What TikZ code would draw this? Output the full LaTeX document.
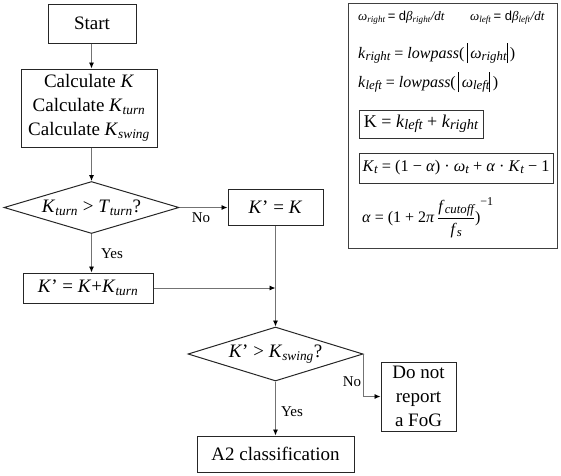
\documentclass[tikz,border=0pt]{standalone}
\usepackage{fontspec}
\usepackage{graphicx}
\setmainfont{Liberation Serif}
\newfontfamily\sansf{Liberation Sans}
\usetikzlibrary{shapes.geometric,arrows.meta}
\newcommand{\lsub}[1]{\textsubscript{\itshape #1}}
\newcommand{\psub}[1]{\raisebox{-0.12em}{\scalebox{0.8}{\itshape #1}}}
\newcommand{\vbar}{\raisebox{-0.3em}{\rule{0.7pt}{1.25em}}}
\begin{document}
\begin{tikzpicture}[x=1pt,y=-1pt,
  box/.style={draw=black!85, line width=1pt, inner sep=0pt, align=center, font=\fontsize{19}{24}\selectfont},
  dia/.style={diamond, draw=black!85, line width=1pt, aspect=3.4, inner sep=0pt, minimum width=175pt, minimum height=52pt, font=\fontsize{19}{24}\selectfont},
  conn/.style={draw=black!55, line width=0.9pt, -{Latex[length=6pt,width=5pt,color=black]}},
  lbl/.style={inner sep=0pt, font=\fontsize{15}{17}\selectfont},
  frm/.style={anchor=west, inner sep=0pt},
  fbox/.style={draw=black!80, line width=0.9pt, inner sep=0pt}
]
\useasboundingbox (0,0) rectangle (561,475);

% flowchart
\node[box, minimum width=88pt, minimum height=39pt] (start) at (92,23.5) {Start};
\node[box, minimum width=136pt, minimum height=78pt] (calc) at (89,108) {Calculate \textit{K}\\Calculate \textit{K}\lsub{turn}\\Calculate \textit{K}\lsub{swing}};
\node[dia] (d1) at (91.5,207.5) {\textit{K}\lsub{turn} > \textit{T}\lsub{turn}?};
\node[box, minimum width=95pt, minimum height=36pt] (kk) at (275.5,207.5) {\textit{K}’ = \textit{K}};
\node[box, minimum width=130pt, minimum height=30pt] (kplus) at (88,288) {\textit{K}’ = \textit{K}+\textit{K}\lsub{turn}};
\node[dia, minimum height=54pt] (d2) at (275.5,354) {\textit{K}’ > \textit{K}\lsub{swing}?};
\node[box, minimum width=75pt, minimum height=69pt] (dn) at (418.5,396.5) {Do not\\report\\a FoG};
\node[box, minimum width=157pt, minimum height=36pt] (a2) at (275.5,454) {A2 classification};

\draw[conn] (d1.north |- start.south) -- (d1.north |- calc.north);
\draw[conn] (d1.north |- calc.south) -- (d1.north);
\draw[conn] (d1.east) -- (kk.west);
\node[lbl] (no1) at (201,218) {No};
\draw[conn] (d1.south) -- (d1.south |- kplus.north);
\node[lbl] (yes1) at (112,254) {Yes};
\coordinate (m) at (kk.south |- kplus.east);
\draw[conn] (kplus.east) -- (m);
\draw[conn] (kk.south) -- (d2.north);
\draw[conn] (d2.east) |- (dn.west);
\node[lbl] (no2) at (352,382) {No};
\draw[conn] (d2.south) -- (a2.north);
\node[lbl] (yes2) at (292,412) {Yes};

% formula panel
\node[draw=black!75, line width=1pt, minimum width=209pt, minimum height=245pt, inner sep=0pt] (panel) at (452.5,125.5) {};
\node[frm, font=\fontsize{13}{15}\selectfont] (f1a) at (358,18) {\textit{ω}\lsub{right}{\sansf\,= d}\textit{β}\lsub{right}\textit{/dt}};
\node[frm, font=\fontsize{13}{15}\selectfont] (f1b) at (470,18) {\textit{ω}\lsub{left}{\sansf\,= d}\textit{β}\lsub{left}\textit{/dt}};
\node[frm, font=\fontsize{16}{18}\selectfont] (f2) at (358,53) {\textit{k}\psub{right} = \textit{lowpass}(\,\vbar\,\textit{ω}\psub{right}\vbar\,)};
\node[frm, font=\fontsize{16}{18}\selectfont] (f3) at (358,82) {\textit{k}\psub{left} = \textit{lowpass}(\,\vbar\,\textit{ω}\psub{left}\vbar\,)};
\node[fbox, minimum width=124pt, minimum height=28pt, font=\fontsize{18}{20}\selectfont] (fK) at (421,124) {K = \textit{k}\psub{left} + \textit{k}\psub{right}};
\node[fbox, minimum width=194pt, minimum height=30pt, font=\fontsize{16.3}{20}\selectfont] (fKt) at (456,168) {\textit{K}\psub{t} = (1 − \textit{α}) · \textit{ω}\psub{t} + \textit{α} · \textit{K}\psub{t} − 1};
\node[frm, font=\fontsize{16}{18}\selectfont] (falpha) at (362,218) {\textit{α} = (1 + 2\textit{π}\,$\displaystyle\frac{\mbox{\textit{f}\psub{cutoff}}}{\mbox{\textit{f}\psub{s}}}$)\raisebox{17pt}{\scalebox{0.75}{−1}}};
\end{tikzpicture}
\end{document}
